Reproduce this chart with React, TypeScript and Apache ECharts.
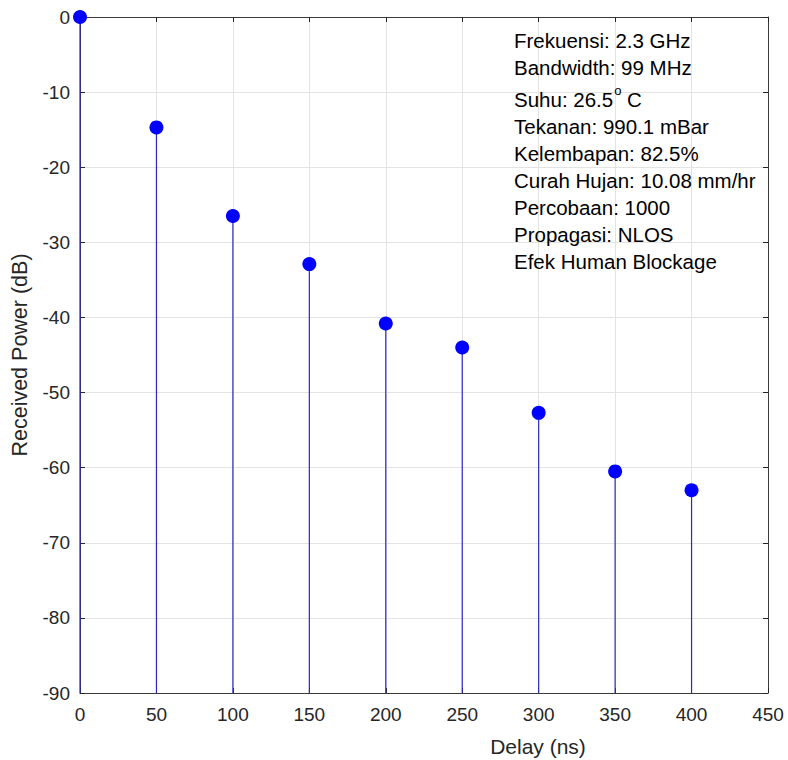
import React, { useEffect, useRef } from "react";
import * as echarts from "echarts";

const delays = [0, 50, 100, 150, 200, 250, 300, 350, 400];
const powers = [0, -14.7, -26.5, -32.9, -40.8, -44.0, -52.7, -60.5, -63.0];
const annotationLines = [
  "Frekuensi: 2.3 GHz",
  "Bandwidth: 99 MHz",
  "SUHU",
  "Tekanan: 990.1 mBar",
  "Kelembapan: 82.5%",
  "Curah Hujan: 10.08 mm/hr",
  "Percobaan: 1000",
  "Propagasi: NLOS",
  "Efek Human Blockage",
];
const suhuParts = ["Suhu: 26.5", "o", " C"];
const xTitle = "Delay (ns)";
const yTitle = "Received Power (dB)";

const FONT = "'Liberation Sans', Arial, Helvetica, sans-serif";
const TXT = "#262626";

export default function App() {
  const ref = useRef<HTMLDivElement>(null);
  useEffect(() => {
    if (!ref.current) return;
    const chart = echarts.init(ref.current, null, { renderer: "svg" });
    const yMin = -90;
    const lineY = [42, 69, 99, 128, 155, 182, 209, 236, 263];
    const AF = 20.5;
    const graphics: any[] = annotationLines.map((t, i) => {
      if (t === "SUHU") {
        return {
          type: "text",
          left: 514,
          top: lineY[i] - 15,
          style: {
            text: `{a|${suhuParts[0]}}{s|${suhuParts[1]}}{a|${suhuParts[2]}}`,
            rich: {
              a: { fontSize: AF, fontFamily: FONT, fill: "#000", verticalAlign: "bottom", lineHeight: 26 },
              s: { fontSize: 13, fontFamily: FONT, fill: "#000", verticalAlign: "top", lineHeight: 26, padding: [0, 0, 11, 1] },
            },
          },
          z: 10,
        };
      }
      return {
        type: "text",
        left: 514,
        top: lineY[i] - 12,
        style: { text: t, fontSize: AF, fontFamily: FONT, fill: "#000" },
        z: 10,
      };
    });
    graphics.push({
      type: "text",
      x: 538,
      y: 746,
      style: {
        text: xTitle,
        fontSize: 21,
        fontFamily: FONT,
        fill: TXT,
        align: "center",
        verticalAlign: "middle",
      },
      z: 10,
    });
    chart.setOption({
      animation: false,
      backgroundColor: "#fff",
      grid: { left: 80, right: 20, top: 17, bottom: 67, containLabel: false },
      xAxis: [
        {
          type: "value",
          min: 0,
          max: 450,
          interval: 50,
          position: "bottom",
          axisLine: { show: true, onZero: false, lineStyle: { color: "#3a3a3a", width: 1 } },
          axisTick: { show: true, inside: true, length: 5, lineStyle: { color: TXT } },
          axisLabel: { fontSize: 19, fontFamily: FONT, color: TXT, margin: 12 },
          splitLine: { show: true, lineStyle: { color: "#e3e3e3", width: 1 } },
        },
        {
          type: "value",
          min: 0,
          max: 450,
          interval: 50,
          position: "top",
          axisLine: { show: true, onZero: false, lineStyle: { color: "#3a3a3a", width: 1 } },
          axisTick: { show: true, inside: true, length: 5, lineStyle: { color: TXT } },
          axisLabel: { show: false },
          splitLine: { show: false },
        },
      ],
      yAxis: [
        {
          type: "value",
          min: -90,
          max: 0,
          interval: 10,
          position: "left",
          name: yTitle,
          nameLocation: "middle",
          nameGap: 49,
          nameTextStyle: { fontSize: 21.5, fontFamily: FONT, color: TXT },
          axisLine: { show: true, onZero: false, lineStyle: { color: "#3a3a3a", width: 1 } },
          axisTick: { show: true, inside: true, length: 5, lineStyle: { color: TXT } },
          axisLabel: { fontSize: 19, fontFamily: FONT, color: TXT, margin: 10 },
          splitLine: { show: true, lineStyle: { color: "#e3e3e3", width: 1 } },
        },
        {
          type: "value",
          min: -90,
          max: 0,
          interval: 10,
          position: "right",
          axisLine: { show: true, onZero: false, lineStyle: { color: "#3a3a3a", width: 1 } },
          axisTick: { show: true, inside: true, length: 5, lineStyle: { color: TXT } },
          axisLabel: { show: false },
          splitLine: { show: false },
        },
      ],
      series: [
        {
          type: "custom",
          xAxisIndex: 0,
          yAxisIndex: 0,
          clip: false,
          z: 5,
          data: delays.map((d, i) => [d, powers[i]]),
          renderItem: (params: any, api: any) => {
            const top = api.coord([api.value(0), api.value(1)]);
            const bottom = api.coord([api.value(0), yMin]);
            return {
              type: "group",
              children: [
                {
                  type: "line",
                  shape: { x1: top[0], y1: top[1], x2: bottom[0], y2: bottom[1] },
                  style: { stroke: "#2a2ac4", lineWidth: 1.2 },
                },
                {
                  type: "circle",
                  shape: { cx: top[0], cy: top[1], r: 7 },
                  style: { fill: "#0000ff", stroke: "#0000ff", lineWidth: 0 },
                },
              ],
            };
          },
        },
      ],
      graphic: graphics,
    });
    return () => chart.dispose();
  }, []);
  return (
    <div
      ref={ref}
      style={{ position: "fixed", left: 0, top: 0, width: 788, height: 760 }}
    />
  );
}
